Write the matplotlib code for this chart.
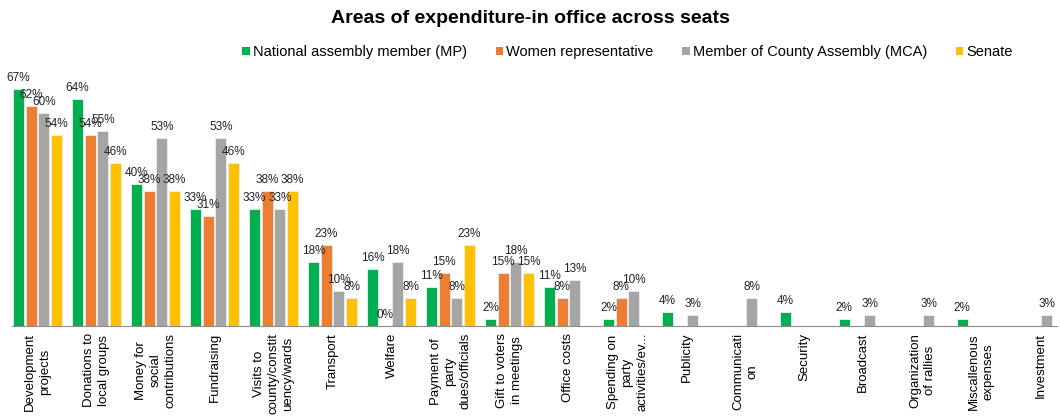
import numpy as np
import matplotlib
matplotlib.use("Agg")
import matplotlib.pyplot as plt
from matplotlib.patches import Patch

plt.rcParams["font.family"] = ["Liberation Sans", "DejaVu Sans"]

# カテゴリと系列
categories = [
    "Development\nprojects", "Donations to\nlocal groups", "Money for\nsocial\ncontributions",
    "Fundraising", "Visits to\ncounty/constit\nuency/wards", "Transport", "Welfare",
    "Payment of\nparty\ndues/officials", "Gift to voters\nin meetings", "Office costs",
    "Spending on\nparty\nactivities/ev...", "Publicity", "Communicati\non", "Security",
    "Broadcast", "Organization\nof rallies", "Miscallenous\nexpenses", "Investment",
]
series_names = ["National assembly member (MP)", "Women representative",
                "Member of County Assembly (MCA)", "Senate"]
nan = np.nan
mp = [67, 64, 40, 33, 33, 18, 16, 11, 2, 11, 2, 4, nan, 4, 2, nan, 2, nan]
women = [62, 54, 38, 31, 38, 23, 0, 15, 15, 8, 8, nan, nan, nan, nan, nan, nan, nan]
mca = [60, 55, 53, 53, 33, 10, 18, 8, 18, 13, 10, 3, 8, nan, 3, 3, nan, 3]
senate = [54, 46, 38, 46, 38, 8, 8, 23, 15, nan, nan, nan, nan, nan, nan, nan, nan, nan]
colors = ["#00B050", "#ED7D31", "#A5A5A5", "#FFC000"]

fig = plt.figure(figsize=(10.6, 4.18), dpi=100)
ax = fig.add_axes([0.011, 0.22, 0.986, 0.636])

x = np.arange(len(categories))
w = 0.215
for i, (vals, c) in enumerate(zip([mp, women, mca, senate], colors)):
    pos = x + (i - 1.5) * w
    v = np.array(vals, dtype=float)
    ax.bar(pos, v, width=w * 0.86, color=c, edgecolor="#eeeeee", linewidth=0.6)
    for p, val in zip(pos, v):
        if not np.isnan(val):
            ax.text(p, val + 1.4, f"{int(val)}%", ha="center", va="bottom",
                    fontsize=8.5, color="#222222")

ax.set_xlim(-0.44, len(categories) - 0.72)
ax.set_ylim(0, 75)
ax.set_yticks([])
for s in ["top", "right", "left"]:
    ax.spines[s].set_visible(False)
ax.spines["bottom"].set_color("#8c8c8c")
ax.set_xticks(x)
ax.set_xticklabels(categories, rotation=90, fontsize=9.5, va="top", ha="center",
                   multialignment="center", linespacing=1.3)
ax.tick_params(axis="x", length=0, pad=5)

fig.text(0.5, 0.955, "Areas of expenditure-in office across seats", ha="center",
         va="center", fontsize=14, fontweight="bold")

handles = [Patch(facecolor=c, edgecolor="none") for c in colors]
fig.legend(handles, series_names, loc="center", bbox_to_anchor=(0.592, 0.875), ncol=4,
           frameon=False, fontsize=10.5, handlelength=0.5, handleheight=0.5,
           handletextpad=0.2, columnspacing=2.0)

fig.savefig("out.png", dpi=100)
